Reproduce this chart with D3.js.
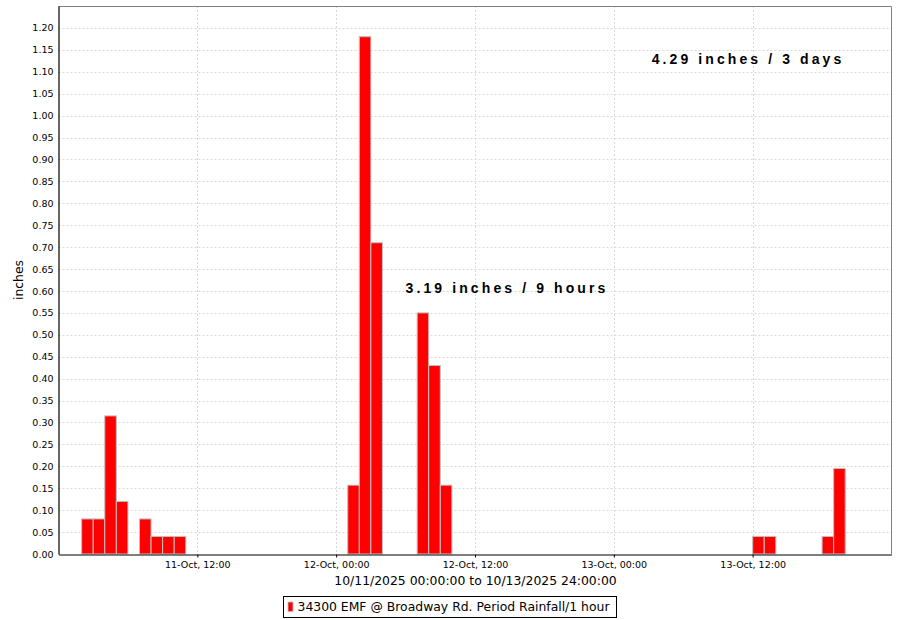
<!DOCTYPE html>
<html>
<head>
<meta charset="utf-8">
<script src="https://cdn.jsdelivr.net/npm/d3@7/dist/d3.min.js"></script>
<style>
  html, body { margin: 0; padding: 0; background: #ffffff; }
  svg { display: block; }
</style>
</head>
<body>
<svg id="chart" width="900" height="620"></svg>
<script>
// ---- Data ----
const barTimes = [
  "2025-10-11T02:00", "2025-10-11T03:00", "2025-10-11T04:00", "2025-10-11T05:00",
  "2025-10-11T07:00", "2025-10-11T08:00", "2025-10-11T09:00", "2025-10-11T10:00",
  "2025-10-12T01:00", "2025-10-12T02:00", "2025-10-12T03:00",
  "2025-10-12T07:00", "2025-10-12T08:00", "2025-10-12T09:00",
  "2025-10-13T12:00", "2025-10-13T13:00", "2025-10-13T18:00", "2025-10-13T19:00"
];
const rainfall = [
  0.08, 0.08, 0.315, 0.12,
  0.08, 0.04, 0.04, 0.04,
  0.157, 1.18, 0.71,
  0.55, 0.43, 0.157,
  0.04, 0.04, 0.04, 0.195
];
const xTickTimes = ["2025-10-11T12:00", "2025-10-12T00:00", "2025-10-12T12:00", "2025-10-13T00:00", "2025-10-13T12:00"];
const yTickValues = [0, 0.05, 0.10, 0.15, 0.20, 0.25, 0.30, 0.35, 0.40, 0.45, 0.50, 0.55, 0.60,
                     0.65, 0.70, 0.75, 0.80, 0.85, 0.90, 0.95, 1.00, 1.05, 1.10, 1.15, 1.20];
const domainStart = "2025-10-11T00:00";
const domainEnd = "2025-10-14T00:00";
const yMax = 1.25;
const seriesName = "34300 EMF @ Broadway Rd. Period Rainfall/1 hour";
const axisTitleX = "10/11/2025 00:00:00 to 10/13/2025 24:00:00";
const axisTitleY = "inches";
const annotations = [
  { text: "4.29 inches / 3 days", time: "2025-10-13T03:16", value: 1.117 },
  { text: "3.19 inches / 9 hours", time: "2025-10-12T06:00", value: 0.596 }
];

// ---- Layout ----
const parse = d3.timeParse("%Y-%m-%dT%H:%M");
const pLeft = 58.5, pRight = 891.5, pTop = 6, pBottom = 554;
const svg = d3.select("#chart");
const font = "'DejaVu Sans', sans-serif";

const x = d3.scaleTime().domain([parse(domainStart), parse(domainEnd)]).range([pLeft, pRight]);
const y = d3.scaleLinear().domain([0, yMax]).range([pBottom, pTop]);

// gridlines
const grid = svg.append("g");
grid.selectAll("line.h").data(yTickValues.filter(v => v > 0)).enter().append("line")
  .attr("x1", pLeft).attr("x2", pRight)
  .attr("y1", d => Math.round(y(d)) + 0.5).attr("y2", d => Math.round(y(d)) + 0.5)
  .attr("stroke", "#d9d9d9").attr("stroke-width", 1).attr("stroke-dasharray", "2,2");
grid.selectAll("line.v").data(xTickTimes.map(parse)).enter().append("line")
  .attr("x1", d => Math.round(x(d)) + 0.5).attr("x2", d => Math.round(x(d)) + 0.5)
  .attr("y1", pTop).attr("y2", pBottom)
  .attr("stroke", "#d9d9d9").attr("stroke-width", 1).attr("stroke-dasharray", "2,2");

// plot outline (top/right)
svg.append("path")
  .attr("d", `M${pLeft},${pTop + 0.5}H${pRight}V${pBottom}`)
  .attr("fill", "none").attr("stroke", "#808080").attr("stroke-width", 1);

// bars
const bars = barTimes.map((t, i) => ({ t: parse(t), v: rainfall[i] }));
svg.append("g").selectAll("rect").data(bars).enter().append("rect")
  .attr("x", d => x(d.t))
  .attr("width", d => x(d3.timeHour.offset(d.t, 1)) - x(d.t))
  .attr("y", d => y(d.v))
  .attr("height", d => y(0) - y(d.v))
  .attr("fill", "#ff0000")
  .attr("stroke", "#c0c0c0").attr("stroke-width", 1);

// y axis
const yAxis = d3.axisLeft(y).tickValues(yTickValues).tickFormat(d3.format(".2f")).tickSize(0).tickPadding(5);
const gy = svg.append("g").attr("transform", `translate(${pLeft},0)`).call(yAxis);
gy.select(".domain").attr("stroke", "#000").attr("stroke-width", 1.2);
gy.selectAll("text").attr("font-family", font).attr("font-size", "9.5px").attr("fill", "#000");

// x axis
const xAxis = d3.axisBottom(x).tickValues(xTickTimes.map(parse))
  .tickFormat(d3.timeFormat("%d-%b, %H:%M")).tickSizeInner(3).tickSizeOuter(0).tickPadding(4);
const gx = svg.append("g").attr("transform", `translate(0,${pBottom + 0.5})`).call(xAxis);
gx.select(".domain").attr("stroke", "#000").attr("stroke-width", 1.2);
gx.selectAll(".tick line").attr("stroke", "#000");
gx.selectAll("text").attr("font-family", font).attr("font-size", "9.5px").attr("fill", "#000");

// axis titles
svg.append("text").attr("x", (pLeft + pRight) / 2 + 0.5).attr("y", 585)
  .attr("text-anchor", "middle").attr("font-family", font).attr("font-size", "12.4px")
  .attr("fill", "#000").text(axisTitleX);
svg.append("text").attr("transform", `translate(23,${(pTop + pBottom) / 2}) rotate(-90)`)
  .attr("text-anchor", "middle").attr("font-family", font).attr("font-size", "12.4px")
  .attr("fill", "#000").text(axisTitleY);

// annotations
svg.append("g").selectAll("text").data(annotations).enter().append("text")
  .attr("x", d => x(parse(d.time))).attr("y", d => y(d.value))
  .attr("font-family", "'Liberation Sans', Arial, sans-serif").attr("font-weight", "bold")
  .attr("font-size", "14px").attr("letter-spacing", "3.1px").attr("fill", "#000")
  .text(d => d.text);

// legend
const lg = svg.append("g");
const legText = lg.append("text").attr("x", 297.5).attr("y", 611)
  .attr("font-family", font).attr("font-size", "12.4px").attr("fill", "#000").text(seriesName);
const tw = legText.node().getComputedTextLength();
lg.insert("rect", "text").attr("x", 283.5).attr("y", 596.5).attr("width", 297.5 + tw + 7 - 283.5).attr("height", 21)
  .attr("fill", "#fff").attr("stroke", "#000").attr("stroke-width", 1);
lg.append("rect").attr("x", 288).attr("y", 602).attr("width", 5).attr("height", 9.5)
  .attr("fill", "#ff0000").attr("stroke", "#c0c0c0").attr("stroke-width", 0.8);
</script>
</body>
</html>
